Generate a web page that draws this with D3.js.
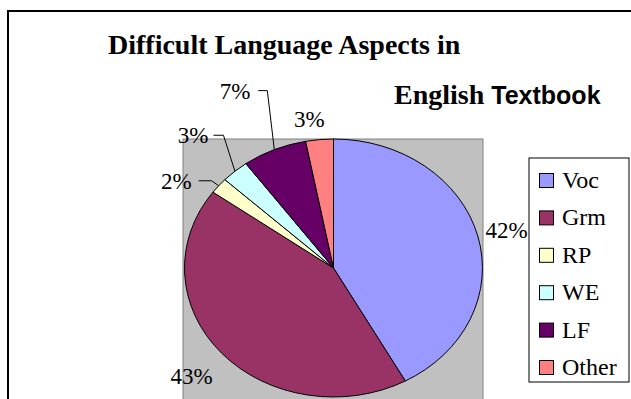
<!DOCTYPE html>
<html><head><meta charset="utf-8">
<script src="https://cdn.jsdelivr.net/npm/d3@7"></script>
<style>body{margin:0;background:#fff}svg{display:block}</style>
</head><body>
<svg id="c" width="631" height="399"></svg>
<script>
const categories = ["Voc","Grm","RP","WE","LF","Other"];
const values = [42,43,2,3,7,3];
const labels = ["42%","43%","2%","3%","7%","3%"];
const colors = ["#9999FF","#993366","#FFFFCC","#CCFFFF","#660066","#FF8080"];
const titleLine1 = "Difficult Language Aspects in";

const svg = d3.select("#c");
svg.append("rect").attr("x",8).attr("y",11).attr("width",700).attr("height",500)
  .attr("fill","#fff").attr("stroke","#000").attr("stroke-width",2);

svg.append("text").attr("x",108).attr("y",54)
  .attr("font-family","'Liberation Serif','Times New Roman',serif").attr("font-weight","bold")
  .attr("font-size",28).text(titleLine1);
const t2 = svg.append("text").attr("x",394).attr("y",104).attr("font-weight","bold");
t2.append("tspan").attr("font-family","'Liberation Serif',serif").attr("font-size",28).text("English ");
t2.append("tspan").attr("font-family","'Liberation Sans',Arial,sans-serif").attr("font-size",25).text("Textbook");

const plot = {x0:183, x1:483, y0:139, y1:420};
svg.append("rect").attr("x",plot.x0).attr("y",plot.y0).attr("width",plot.x1-plot.x0).attr("height",plot.y1-plot.y0)
  .attr("fill","#C0C0C0").attr("stroke","#808080").attr("stroke-width",1);

const cx = (plot.x0+plot.x1)/2 + 0.5, cy = 268, rx = 149, ry = 129;
const pie = d3.pie().sort(null).value(d=>d);
const arcs = pie(values);
const arc = d3.arc().innerRadius(0).outerRadius(1);
const g = svg.append("g").attr("transform",`translate(${cx},${cy}) scale(${rx},${ry})`);
g.selectAll("path").data(arcs).join("path")
  .attr("d",arc).attr("fill",(d,i)=>colors[i])
  .attr("stroke","#000").attr("stroke-width",1).attr("vector-effect","non-scaling-stroke");

function ept(a,k){ return [cx + rx*k*Math.sin(a), cy - ry*k*Math.cos(a)]; }
const mid = d => (d.startAngle+d.endAngle)/2;

const font = "'Liberation Serif','Times New Roman',serif";
const layout = [
  {k:1.2, dx:0, dy:0},
  {k:1.27, dx:0, dy:0},
  {leader:[-7,-5], seg:13, gap:7},
  {leader:[-11.5,-36], seg:10, gap:5},
  {leader:[-7,-59], seg:9, gap:8},
  {k:1.16, dx:-8, dy:0}
];
arcs.forEach((d,i)=>{
  const L = layout[i];
  if (L.leader) {
    const e = ept(mid(d),1);
    const el = [e[0]+L.leader[0], e[1]+L.leader[1]];
    svg.append("polyline").attr("points",[e, el, [el[0]-L.seg, el[1]]].map(p=>p.join(",")).join(" "))
      .attr("fill","none").attr("stroke","#000").attr("stroke-width",1);
    svg.append("text").attr("x",el[0]-L.seg-L.gap).attr("y",el[1]+8)
      .attr("text-anchor","end").attr("font-family",font).attr("font-size",23).text(labels[i]);
  } else {
    const p = ept(mid(d),L.k);
    svg.append("text").attr("x",p[0]+L.dx).attr("y",p[1]+L.dy+8)
      .attr("text-anchor","middle").attr("font-family",font).attr("font-size",23).text(labels[i]);
  }
});

svg.append("rect").attr("x",529).attr("y",158).attr("width",100).attr("height",224)
  .attr("fill","#fff").attr("stroke","#000").attr("stroke-width",1);
const ly = d3.scalePoint().domain(categories).range([180,367]);
const lg = svg.append("g").selectAll("g").data(categories).join("g")
  .attr("transform",d=>`translate(539,${ly(d)})`);
lg.append("rect").attr("x",0.5).attr("y",-6.5).attr("width",14).attr("height",14)
  .attr("fill",(d,i)=>colors[i]).attr("stroke","#000").attr("stroke-width",1);
lg.append("text").attr("x",23).attr("y",8).attr("font-family",font).attr("font-size",24).text(d=>d);
</script>
</body></html>
